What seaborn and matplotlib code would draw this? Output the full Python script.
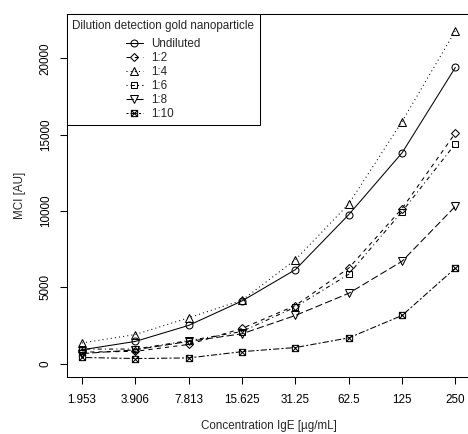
import numpy as np
import pandas as pd
import matplotlib
matplotlib.use("Agg")
import matplotlib.pyplot as plt
from matplotlib.path import Path
import seaborn as sns

# ---- data ----
conc_labels = ["1.953", "3.906", "7.813", "15.625", "31.25", "62.5", "125", "250"]
series_names = ["Undiluted", "1:2", "1:4", "1:6", "1:8", "1:10"]
undiluted = [900, 1450, 2500, 4100, 6150, 9750, 13800, 19400]
dil_1_2 = [750, 800, 1250, 2300, 3800, 6250, 10150, 15100]
dil_1_4 = [1350, 1900, 3000, 4150, 6800, 10450, 15850, 21800]
dil_1_6 = [950, 950, 1500, 2100, 3700, 5850, 9950, 14400]
dil_1_8 = [650, 900, 1450, 1950, 3150, 4600, 6700, 10300]
dil_1_10 = [400, 330, 370, 780, 1050, 1680, 3150, 6250]
all_values = [undiluted, dil_1_2, dil_1_4, dil_1_6, dil_1_8, dil_1_10]

sns.set_theme(style="ticks")
plt.rcParams['font.family'] = ['Liberation Sans', 'DejaVu Sans']
plt.rcParams['lines.scale_dashes'] = True

# square with X marker (R pch 7)
boxx = Path([(-1, -1), (1, -1), (1, 1), (-1, 1), (-1, -1), (1, 1), (-1, 1), (1, -1)],
            [Path.MOVETO, Path.LINETO, Path.LINETO, Path.LINETO, Path.LINETO,
             Path.LINETO, Path.MOVETO, Path.LINETO])

styles = [
    dict(marker='o', ls='-', ms=5.0),
    dict(marker='D', ls=(0, (4, 4)), ms=4.5),
    dict(marker='^', ls=(0, (1, 3)), ms=5.5),
    dict(marker='s', ls=(0, (1, 3, 4, 3)), ms=4.0),
    dict(marker='v', ls=(0, (7, 3)), ms=5.5),
    dict(marker=boxx, ls=(0, (2, 2, 6, 2)), ms=4.5),
]

fig = plt.figure(figsize=(4.68, 4.34), dpi=100)
ax = fig.add_axes([67 / 468, (434 - 377) / 434, (470.3 - 67) / 468, (377 - 14.3) / 434])

xpos = np.arange(len(conc_labels))
for name, vals, st in zip(series_names, all_values, styles):
    df = pd.DataFrame({"conc": xpos, "mci": vals})
    sns.lineplot(data=df, x="conc", y="mci", ax=ax, color="black",
                 linestyle=st['ls'], marker=st['marker'], markersize=st['ms'],
                 markerfacecolor='none', markeredgecolor='black', markeredgewidth=0.75,
                 linewidth=0.75, label=name, clip_on=False)

ax.set_xlim(-0.28, 7.28)
ax.set_ylim(-880, 22880)
ax.set_xticks(xpos)
ax.set_xticklabels(conc_labels)
ax.set_yticks([0, 5000, 10000, 15000, 20000])
ax.set_yticklabels(["0", "5000", "10000", "15000", "20000"], rotation=90, va='center')
ax.tick_params(axis='both', direction='out', length=5, width=0.75, colors='black',
               labelsize=8.4)
ax.tick_params(axis='x', pad=7)
ax.tick_params(axis='y', pad=6)
for sp in ax.spines.values():
    sp.set_visible(True)
    sp.set_color('black')
    sp.set_linewidth(0.75)

ax.set_xlabel("Concentration IgE [µg/mL]", fontsize=8.4, labelpad=10)
ax.set_ylabel("MCI [AU]", fontsize=8.4, labelpad=10)

leg = ax.legend(title="Dilution detection gold nanoparticle", loc='upper left',
                bbox_to_anchor=(0, 1), borderaxespad=0, fancybox=False,
                edgecolor='black', framealpha=1, fontsize=8.4, title_fontsize=8.4,
                handlelength=1.5, handletextpad=0.7, labelspacing=0.17,
                borderpad=0.45, alignment='center')
leg.get_frame().set_linewidth(0.75)
leg._legend_box.sep = 4.5

fig.savefig("out.png", dpi=100)
